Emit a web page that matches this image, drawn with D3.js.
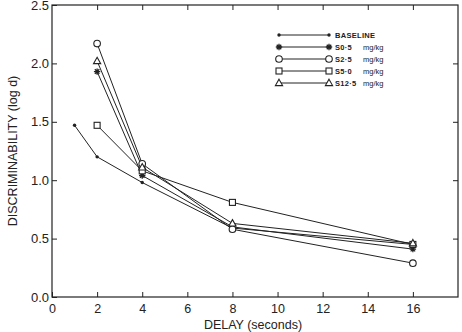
<!DOCTYPE html>
<html><head><meta charset="utf-8">
<script src="https://cdn.jsdelivr.net/npm/d3@7"></script>
<style>body{margin:0;background:#fff}svg{display:block}text{font-family:"Liberation Sans",Arial,sans-serif;fill:#222}</style>
</head><body><svg id="c" width="462" height="332"></svg>
<script>
const xTicks = [0,2,4,6,8,10,12,14,16];
const yTicks = [0.0,0.5,1.0,1.5,2.0,2.5];
const seriesNames = ["BASELINE","S0·5  mg/kg","S2·5  mg/kg","S5·0  mg/kg","S12·5  mg/kg"];
const markers = ["dot","star","circle","square","triangle"];
const baselineDelay = [1,2,4,8,16];
const baselineVals = [1.47,1.20,0.98,0.59,0.45];
const drugDelay = [2,4,8,16];
const s05Vals = [1.93,1.04,0.60,0.41];
const s25Vals = [2.17,1.14,0.58,0.29];
const s50Vals = [1.47,1.08,0.81,0.45];
const s125Vals = [2.02,1.11,0.63,0.46];

const svg = d3.select("#c");
const L=52,R=458,T=5,B=297;
const x = d3.scaleLinear().domain([0,18]).range([L,R]);
const y = d3.scaleLinear().domain([0,2.5]).range([B,T]);
const col="#222";

svg.append("rect").attr("x",L).attr("y",T).attr("width",R-L).attr("height",B-T)
  .attr("fill","none").attr("stroke",col).attr("stroke-width",1.2);

const fmt = d3.format(".1f");
const gB = svg.append("g").attr("transform",`translate(0,${B})`)
  .call(d3.axisBottom(x).tickValues(xTicks).tickSizeInner(-5).tickSizeOuter(0).tickPadding(7));
const gT = svg.append("g").attr("transform",`translate(0,${T})`)
  .call(d3.axisTop(x).tickValues(xTicks.slice(1)).tickSizeInner(-5).tickSizeOuter(0).tickFormat(""));
const gL = svg.append("g").attr("transform",`translate(${L},0)`)
  .call(d3.axisLeft(y).tickValues(yTicks).tickFormat(fmt).tickSizeInner(-5).tickSizeOuter(0).tickPadding(3));
const gR = svg.append("g").attr("transform",`translate(${R},0)`)
  .call(d3.axisRight(y).tickValues(yTicks.slice(1,-1)).tickFormat("").tickSizeInner(-5).tickSizeOuter(0));
[gB,gT,gL,gR].forEach(g=>{
  g.select(".domain").remove();
  g.selectAll(".tick line").attr("stroke",col);
  g.selectAll("text").attr("font-size",13).attr("fill","#222").attr("font-family","Liberation Sans, Arial, sans-serif");
});
gB.selectAll("text").attr("font-size",12.5);

svg.append("text").attr("x",(L+R)/2-2).attr("y",329).attr("text-anchor","middle")
  .attr("font-size",12.5).text("DELAY (seconds)");
svg.append("text").attr("transform",`translate(17,${(T+B)/2}) rotate(-90)`).attr("text-anchor","middle")
  .attr("font-size",12.5).text("DISCRIMINABILITY (log d)");

function drawMarker(g,type,cx,cy){
  if(type==="dot") g.append("circle").attr("cx",cx).attr("cy",cy).attr("r",1.7).attr("fill",col);
  else if(type==="circle") g.append("circle").attr("cx",cx).attr("cy",cy).attr("r",3.3).attr("fill","#fff").attr("stroke",col).attr("stroke-width",1.1);
  else if(type==="square") g.append("rect").attr("x",cx-3).attr("y",cy-3).attr("width",6).attr("height",6).attr("fill","#fff").attr("stroke",col).attr("stroke-width",1.1);
  else if(type==="triangle") g.append("path").attr("d",`M${cx},${cy-3.8}L${cx+3.6},${cy+2.6}L${cx-3.6},${cy+2.6}Z`).attr("fill","#fff").attr("stroke",col).attr("stroke-width",1.1);
  else if(type==="star"){
    const s=3.2; let d="";
    for(let i=0;i<4;i++){const a=i*Math.PI/4;d+=`M${cx-s*Math.cos(a)},${cy-s*Math.sin(a)}L${cx+s*Math.cos(a)},${cy+s*Math.sin(a)}`;}
    g.append("path").attr("d",d).attr("stroke",col).attr("stroke-width",1.3);
  }
}

const series = [
  {xs:baselineDelay, vs:baselineVals},
  {xs:drugDelay, vs:s05Vals},
  {xs:drugDelay, vs:s25Vals},
  {xs:drugDelay, vs:s50Vals},
  {xs:drugDelay, vs:s125Vals}
];
const line = d3.line().x(d=>x(d[0])).y(d=>y(d[1]));
series.forEach((s,i)=>{
  const pts = s.xs.map((d,j)=>[d,s.vs[j]]);
  svg.append("path").attr("d",line(pts)).attr("fill","none").attr("stroke",col).attr("stroke-width",1);
});
series.forEach((s,i)=>{
  const g=svg.append("g");
  s.xs.forEach((d,j)=>drawMarker(g,markers[i],x(d),y(s.vs[j])));
});

const lx1=279, lx2=329, ly0=35, dy=12;
seriesNames.forEach((n,i)=>{
  const yy=ly0+i*dy; const g=svg.append("g");
  g.append("line").attr("x1",lx1).attr("x2",lx2).attr("y1",yy).attr("y2",yy).attr("stroke",col).attr("stroke-width",1);
  drawMarker(g,markers[i],lx1,yy); drawMarker(g,markers[i],lx2,yy);
  const parts = n.split("  ");
  g.append("text").attr("x",335).attr("y",yy+3).attr("font-size",7.5).attr("font-weight","bold").attr("letter-spacing",0.3).text(parts[0]);
  if(parts[1]) g.append("text").attr("x",363).attr("y",yy+3).attr("font-size",7.5).text(parts[1]);
});
</script></body></html>
